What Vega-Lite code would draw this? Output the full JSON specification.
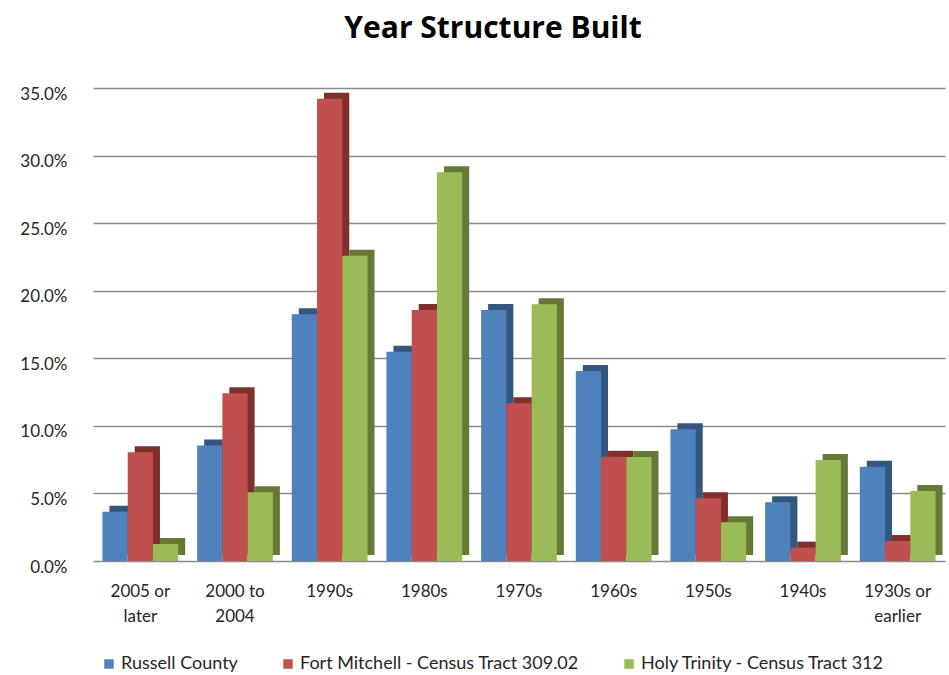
{
  "$schema": "https://vega.github.io/schema/vega-lite/v6.json",
  "width": 852,
  "height": 473,
  "autosize": {"type": "none"},
  "padding": {"left": 93, "top": 88, "right": 4, "bottom": 114},
  "background": "white",
  "title": {
    "text": "Year Structure Built",
    "font": "Open Sans",
    "fontSize": 30,
    "fontWeight": "bold",
    "color": "#000000",
    "anchor": "middle",
    "dx": -26,
    "offset": 41
  },
  "config": {
    "view": {"stroke": null},
    "font": "Lato",
    "axis": {"labelFont": "Lato", "labelColor": "#262626"},
    "legend": {"labelFont": "Lato", "labelColor": "#262626"}
  },
  "data": {
    "values": [
      {"period": "2005 or later", "series": "Russell County", "value": 0.0365},
      {"period": "2005 or later", "series": "Fort Mitchell - Census Tract 309.02", "value": 0.0805},
      {"period": "2005 or later", "series": "Holy Trinity - Census Tract 312", "value": 0.0126},
      {"period": "2000 to 2004", "series": "Russell County", "value": 0.0854},
      {"period": "2000 to 2004", "series": "Fort Mitchell - Census Tract 309.02", "value": 0.1241},
      {"period": "2000 to 2004", "series": "Holy Trinity - Census Tract 312", "value": 0.0508},
      {"period": "1990s", "series": "Russell County", "value": 0.1826},
      {"period": "1990s", "series": "Fort Mitchell - Census Tract 309.02", "value": 0.342},
      {"period": "1990s", "series": "Holy Trinity - Census Tract 312", "value": 0.2258},
      {"period": "1980s", "series": "Russell County", "value": 0.1549},
      {"period": "1980s", "series": "Fort Mitchell - Census Tract 309.02", "value": 0.1858},
      {"period": "1980s", "series": "Holy Trinity - Census Tract 312", "value": 0.2877},
      {"period": "1970s", "series": "Russell County", "value": 0.1858},
      {"period": "1970s", "series": "Fort Mitchell - Census Tract 309.02", "value": 0.1167},
      {"period": "1970s", "series": "Holy Trinity - Census Tract 312", "value": 0.19},
      {"period": "1960s", "series": "Russell County", "value": 0.1406},
      {"period": "1960s", "series": "Fort Mitchell - Census Tract 309.02", "value": 0.0772},
      {"period": "1960s", "series": "Holy Trinity - Census Tract 312", "value": 0.077},
      {"period": "1950s", "series": "Russell County", "value": 0.0975},
      {"period": "1950s", "series": "Fort Mitchell - Census Tract 309.02", "value": 0.0464},
      {"period": "1950s", "series": "Holy Trinity - Census Tract 312", "value": 0.0286},
      {"period": "1940s", "series": "Russell County", "value": 0.0434},
      {"period": "1940s", "series": "Fort Mitchell - Census Tract 309.02", "value": 0.0099},
      {"period": "1940s", "series": "Holy Trinity - Census Tract 312", "value": 0.0748},
      {"period": "1930s or earlier", "series": "Russell County", "value": 0.0698},
      {"period": "1930s or earlier", "series": "Fort Mitchell - Census Tract 309.02", "value": 0.0148},
      {"period": "1930s or earlier", "series": "Holy Trinity - Census Tract 312", "value": 0.0518}
    ]
  },
  "encoding": {
    "x": {
      "field": "period",
      "type": "nominal",
      "sort": null,
      "scale": {"paddingInner": 0.2, "paddingOuter": 0.1},
      "axis": {
        "title": null,
        "domain": false,
        "ticks": false,
        "labelAngle": 0,
        "labelFontSize": 17,
        "labelPadding": 22,
        "labelLineHeight": 25,
        "labelExpr": "datum.value == '2005 or later' ? ['2005 or', 'later'] : datum.value == '2000 to 2004' ? ['2000 to', '2004'] : datum.value == '1930s or earlier' ? ['1930s or', 'earlier'] : datum.value"
      }
    },
    "y": {
      "field": "value",
      "type": "quantitative",
      "scale": {"domain": [0, 0.35]},
      "axis": {
        "title": null,
        "format": ".1%",
        "values": [0, 0.05, 0.1, 0.15, 0.2, 0.25, 0.3, 0.35],
        "domain": false,
        "ticks": false,
        "labelFontSize": 17,
        "labelPadding": 26,
        "labelOffset": 6,
        "gridColor": "#8c8c8c",
        "gridWidth": 1.5
      }
    }
  },
  "layer": [
    {
      "mark": {"type": "bar", "yOffset": -6},
      "encoding": {
        "xOffset": {
          "field": "series",
          "type": "nominal",
          "sort": ["Russell County", "Fort Mitchell - Census Tract 309.02", "Holy Trinity - Census Tract 312"],
          "scale": {"range": [7, 82.73]}
        },
        "color": {
          "field": "series",
          "type": "nominal",
          "sort": ["Russell County", "Fort Mitchell - Census Tract 309.02", "Holy Trinity - Census Tract 312"],
          "scale": {"range": ["#34577f", "#7f2f2d", "#667a37"]},
          "legend": null
        }
      }
    },
    {
      "mark": {"type": "bar"},
      "encoding": {
        "xOffset": {
          "field": "series",
          "type": "nominal",
          "sort": ["Russell County", "Fort Mitchell - Census Tract 309.02", "Holy Trinity - Census Tract 312"]
        },
        "color": {
          "field": "series",
          "type": "nominal",
          "sort": ["Russell County", "Fort Mitchell - Census Tract 309.02", "Holy Trinity - Census Tract 312"],
          "scale": {"range": ["#4f81bd", "#c0504d", "#9bbb59"]},
          "legend": {
            "title": null,
            "orient": "none",
            "legendX": 7,
            "legendY": 567,
            "direction": "horizontal",
            "symbolType": "square",
            "symbolSize": 90,
            "symbolStrokeWidth": 0,
            "labelFontSize": 18,
            "labelLimit": 500,
            "labelOffset": 3,
            "columnPadding": 41
          }
        }
      }
    }
  ],
  "resolve": {"scale": {"color": "independent", "xOffset": "independent"}}
}
